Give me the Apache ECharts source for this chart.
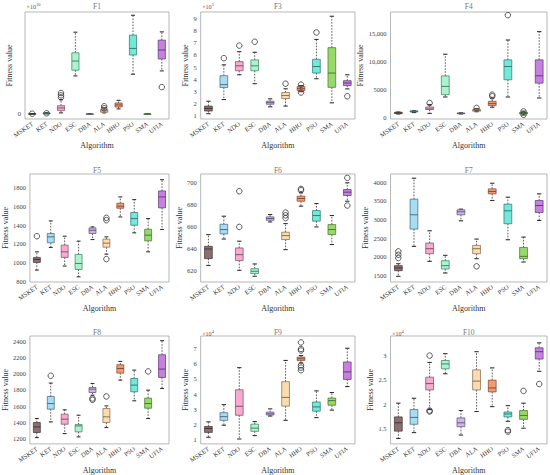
<!DOCTYPE html>
<html>
<head>
<meta charset="utf-8">
<script src="https://cdn.jsdelivr.net/npm/echarts@6/dist/echarts.min.js"></script>
<style>
  html, body { margin: 0; padding: 0; background: #fff; }
  #chart { width: 550px; height: 475px; }
</style>
</head>
<body>
<div id="chart"></div>
<script>
const algorithms = ['MSKET', 'KET', 'NDO', 'ESC', 'DBA', 'ALA', 'HHO', 'PSO', 'SMA', 'UFIA'];
const boxColors = ['#8c6f70', '#a8dcf4', '#f6abcf', '#a9f3cf', '#c9b7ea', '#fbdcb2', '#f29b72', '#71eadc', '#97da69', '#c680e0'];
const edgeColors = ['#3f3132', '#3f6478', '#7a4a60', '#3e7a5d', '#5c4f78', '#7f6544', '#7a432c', '#2c7068', '#456e2c', '#5e3270'];

// each row: [min, q1, median, q3, max]
// F1 in units of 1e10
const f1Stats = [
  [0, 0, 0.01, 0.02, 0.03],
  [0, 0.02, 0.05, 0.08, 0.12],
  [0.1, 0.32, 0.58, 0.81, 1.4],
  [3.73, 4.29, 5.19, 6.0, 8.02],
  [0, 0, 0, 0, 0],
  [0.1, 0.16, 0.3, 0.42, 0.6],
  [0.49, 0.68, 0.88, 1.07, 1.33],
  [3.9, 5.78, 6.43, 7.73, 9.68],
  [0, 0, 0, 0, 0],
  [4.22, 5.39, 6.27, 7.24, 8.05]
];
const f1Outliers = [[0, 0.02], [1, 0.06], [2, 1.62], [2, 1.82], [2, 2.05], [5, 0.55], [5, 0.75], [9, 2.63]];

// F3 in units of 1e5
const f3Stats = [
  [1.14, 1.36, 1.57, 1.77, 2.17],
  [2.31, 3.3, 3.54, 4.28, 5.18],
  [4.36, 4.69, 5.1, 5.45, 6.27],
  [3.62, 4.69, 5.1, 5.59, 6.22],
  [1.71, 1.92, 2.05, 2.17, 2.37],
  [1.77, 2.39, 2.64, 2.89, 3.2],
  [2.96, 3.05, 3.21, 3.38, 3.46],
  [4.03, 4.5, 5.04, 5.64, 7.28],
  [2.04, 3.32, 4.5, 6.6, 9.2],
  [3.19, 3.46, 3.68, 3.87, 4.36]
];
const f3Outliers = [[1, 5.73], [2, 6.77], [3, 7.09], [5, 3.62], [6, 2.89], [6, 3.54], [7, 7.86], [9, 2.58]];

const f4Stats = [
  [700, 770, 880, 1000, 1050],
  [950, 1050, 1150, 1250, 1300],
  [800, 1480, 1600, 1950, 2370],
  [3730, 4140, 5620, 7500, 11360],
  [700, 760, 800, 860, 900],
  [1100, 1200, 1350, 1500, 1650],
  [1900, 2190, 2540, 2960, 3550],
  [3730, 6800, 9170, 10360, 13900],
  [500, 700, 850, 1000, 1200],
  [3550, 6200, 7510, 10360, 15400]
];
const f4Outliers = [[2, 2660], [5, 1780], [6, 3850], [6, 4140], [7, 18340], [8, 1150], [8, 550]];

const f5Stats = [
  [918, 1000, 1032, 1054, 1114],
  [1161, 1211, 1275, 1311, 1446],
  [961, 1054, 1114, 1186, 1282],
  [846, 925, 989, 1086, 1229],
  [1246, 1311, 1346, 1371, 1382],
  [1089, 1164, 1207, 1250, 1275],
  [1489, 1582, 1604, 1636, 1704],
  [1318, 1400, 1471, 1536, 1675],
  [1114, 1232, 1293, 1357, 1471],
  [1354, 1586, 1704, 1768, 1889]
];
const f5Outliers = [[0, 1282], [5, 1479], [5, 1454], [5, 1036]];

const f6Stats = [
  [625, 631.2, 640, 642.4, 653],
  [649, 653.6, 657.6, 662.4, 669.7],
  [620.6, 629.4, 634.8, 640.9, 647],
  [615.2, 617.6, 619.7, 622.1, 626.4],
  [664.5, 666, 667.6, 669.1, 671.2],
  [639.4, 648.5, 652.1, 655.2, 663],
  [678.8, 683.3, 685.8, 687.9, 690.9],
  [660, 665.2, 670.3, 674.8, 681.2],
  [644, 653, 657.6, 662.1, 670.3],
  [683.3, 688.5, 691.5, 693.9, 700]
];
const f6Outliers = [[2, 692.4], [2, 660], [5, 673], [5, 670.5], [5, 668], [6, 694.5], [6, 693.3], [9, 704.5], [9, 679.4]];

const f7Stats = [
  [1482, 1633, 1705, 1767, 1820],
  [2283, 2746, 3128, 3546, 4107],
  [1882, 2087, 2221, 2372, 2701],
  [1571, 1678, 1767, 1900, 2043],
  [2968, 3128, 3208, 3262, 3280],
  [1954, 2087, 2221, 2310, 2479],
  [3511, 3689, 3751, 3822, 3973],
  [2461, 2888, 3235, 3413, 3600],
  [1865, 1954, 2016, 2256, 2532],
  [2977, 3190, 3377, 3511, 3689]
];
const f7Outliers = [[0, 2149], [0, 2060], [0, 1972], [5, 1749]];

const f8Stats = [
  [1208, 1271, 1341, 1395, 1445],
  [1403, 1561, 1631, 1719, 1885],
  [1258, 1374, 1437, 1499, 1553],
  [1217, 1279, 1353, 1370, 1486],
  [1735, 1768, 1810, 1831, 1880],
  [1333, 1395, 1466, 1569, 1602],
  [1922, 2009, 2067, 2113, 2154],
  [1665, 1777, 1860, 1942, 2046],
  [1445, 1573, 1631, 1698, 1797],
  [1818, 1955, 2059, 2237, 2412]
];
const f8Outliers = [[1, 1976], [4, 1694], [4, 1677], [5, 1719], [8, 2030]];

// F9 in units of 1e4
const f9Stats = [
  [1.17, 1.49, 1.75, 1.88, 2.18],
  [1.96, 2.28, 2.52, 2.78, 3.31],
  [1.06, 2.61, 3.2, 4.28, 5.73],
  [1.28, 1.56, 1.77, 2.03, 2.2],
  [2.56, 2.63, 2.71, 2.82, 3.03],
  [2.28, 3.21, 3.78, 4.81, 6.2],
  [6.03, 6.2, 6.31, 6.42, 6.52],
  [2.46, 2.88, 3.16, 3.48, 4.21],
  [2.95, 3.27, 3.57, 3.74, 4.1],
  [4.49, 4.96, 5.45, 6.1, 7.0]
];
const f9Outliers = [[6, 7.38], [6, 6.95], [6, 6.85], [6, 5.88], [6, 5.73], [6, 5.56]];

// F10 in units of 1e4
const f10Stats = [
  [1.3, 1.45, 1.62, 1.74, 2.02],
  [1.42, 1.59, 1.73, 1.89, 2.12],
  [1.89, 2.29, 2.42, 2.55, 2.85],
  [2.62, 2.72, 2.82, 2.89, 3.03],
  [1.37, 1.54, 1.62, 1.72, 1.87],
  [1.85, 2.29, 2.47, 2.7, 3.07],
  [1.95, 2.25, 2.33, 2.49, 2.74],
  [1.65, 1.74, 1.8, 1.84, 1.97],
  [1.51, 1.69, 1.77, 1.87, 2.02],
  [2.67, 2.92, 3.07, 3.15, 3.25]
];
const f10Outliers = [[2, 2.99], [2, 1.87], [2, 1.85], [7, 1.47], [7, 1.44], [8, 2.27], [9, 2.41]];

const FONT = 'Liberation Serif';
const cols = [{ left: 25, width: 144 }, { left: 200.7, width: 154.3 }, { left: 390.5, width: 156.5 }];
const rows = [{ top: 12, height: 107 }, { top: 174, height: 108 }, { top: 336, height: 109 }];

const panels = [
  { title: 'F1', stats: f1Stats, out: f1Outliers, r: 0, c: 0, min: -0.5, max: 10, interval: 0.5, step: 100, gap: 6, exp: '10' },
  { title: 'F3', stats: f3Stats, out: f3Outliers, r: 0, c: 1, min: 0.7, max: 9.55, interval: 0.05, step: 1, gap: 5, exp: '5' },
  { title: 'F4', stats: f4Stats, out: f4Outliers, r: 0, c: 2, min: -200, max: 18900, interval: 100, step: 5000, gap: 19 },
  { title: 'F5', stats: f5Stats, out: f5Outliers, r: 1, c: 0, min: 790, max: 1950, interval: 10, step: 200, gap: 15 },
  { title: 'F6', stats: f6Stats, out: f6Outliers, r: 1, c: 1, min: 610, max: 708, interval: 1, step: 20, gap: 14 },
  { title: 'F7', stats: f7Stats, out: f7Outliers, r: 1, c: 2, min: 1330, max: 4220, interval: 10, step: 500, gap: 16 },
  { title: 'F8', stats: f8Stats, out: f8Outliers, r: 2, c: 0, min: 1130, max: 2470, interval: 10, step: 200, gap: 15 },
  { title: 'F9', stats: f9Stats, out: f9Outliers, r: 2, c: 1, min: 0.74, max: 7.8, interval: 0.01, step: 1, gap: 8, exp: '4' },
  { title: 'F10', stats: f10Stats, out: f10Outliers, r: 2, c: 2, min: 1.19, max: 3.39, interval: 0.01, step: 0.5, gap: 13, exp: '4' }
];

const isStep = (v, step) => {
  const k = v / step;
  return Math.abs(k - Math.round(k)) < 1e-6;
};
const fmtTick = v => {
  const r = Math.round(v * 100) / 100;
  return r >= 10000 ? r.toLocaleString('en-US') : String(r);
};

const renderBox = (params, api) => {
  const i = api.value(0);
  const lo = api.coord([i, api.value(1)]);
  const q1 = api.coord([i, api.value(2)]);
  const md = api.coord([i, api.value(3)]);
  const q3 = api.coord([i, api.value(4)]);
  const hi = api.coord([i, api.value(5)]);
  const band = api.size([1, 0])[0];
  const w = band * 0.5;
  const cw = band * 0.14;
  const cx = q1[0];
  const dash = { stroke: '#333', lineWidth: 0.8, lineDash: [1.6, 1.4] };
  const cap = { stroke: '#333', lineWidth: 1.1 };
  const ln = (x1, y1, x2, y2, style) => ({ type: 'line', shape: { x1, y1, x2, y2 }, style });
  return {
    type: 'group',
    children: [
      ln(cx, q3[1], cx, hi[1], dash),
      ln(cx, q1[1], cx, lo[1], dash),
      ln(cx - cw, hi[1], cx + cw, hi[1], cap),
      ln(cx - cw, lo[1], cx + cw, lo[1], cap),
      {
        type: 'rect',
        shape: { x: cx - w / 2, y: q3[1], width: w, height: Math.max(q1[1] - q3[1], 0.6) },
        style: { fill: boxColors[i], stroke: edgeColors[i], lineWidth: 0.7 }
      },
      ln(cx - w / 2, md[1], cx + w / 2, md[1], { stroke: edgeColors[i], lineWidth: 0.9 })
    ]
  };
};

const textEl = (x, y, text, size, color, align) => ({
  type: 'text', x, y, silent: true,
  style: {
    text, fontFamily: FONT, fontSize: size, fontWeight: 'normal', fill: color,
    stroke: 'none', lineWidth: 0,
    textAlign: align, textVerticalAlign: 'middle', align, verticalAlign: 'middle'
  }
});

const grids = [], xAxes = [], yAxes = [], series = [], graphics = [];

panels.forEach((p, k) => {
  const col = cols[p.c], row = rows[p.r];
  grids.push({
    left: col.left, top: row.top, width: col.width, height: row.height,
    show: true, borderColor: '#9a9a9a', borderWidth: 0.7, backgroundColor: 'transparent'
  });
  xAxes.push({
    type: 'category', gridIndex: k, data: algorithms,
    name: 'Algorithm', nameLocation: 'middle', nameGap: p.r === 0 ? 20 : 19,
    nameTextStyle: { fontFamily: FONT, fontSize: 8, color: '#333' },
    axisLine: { show: false }, axisTick: { show: false },
    axisLabel: { interval: 0, rotate: 35, fontFamily: FONT, fontSize: 6.5, color: '#333', margin: 4 }
  });
  yAxes.push({
    type: 'value', gridIndex: k, min: p.min, max: p.max, interval: p.interval,
    name: 'Fitness value', nameLocation: 'middle', nameGap: p.gap, nameRotate: 90,
    nameTextStyle: { fontFamily: FONT, fontSize: 8, color: '#333' },
    axisLine: { show: false }, axisTick: { show: false }, splitLine: { show: false },
    axisLabel: {
      fontFamily: FONT, fontSize: 6.5, color: '#444', margin: 4, showMinLabel: true, showMaxLabel: true,
      formatter: v => (isStep(v, p.step) ? fmtTick(v) : '')
    }
  });
  series.push({
    type: 'custom', xAxisIndex: k, yAxisIndex: k,
    data: p.stats.map((s, i) => [i, ...s]),
    encode: { x: 0, y: [1, 2, 3, 4, 5] },
    renderItem: renderBox, silent: true
  });
  series.push({
    type: 'scatter', xAxisIndex: k, yAxisIndex: k,
    data: p.out, symbol: 'circle', symbolSize: 5.5,
    itemStyle: { color: 'rgba(255,255,255,0)', borderColor: '#333', borderWidth: 1 },
    silent: true, z: 5
  });
  const cxTitle = col.left + col.width / 2;
  const yTitle = p.r === 0 ? 6 : row.top - 3.5;
  graphics.push(textEl(cxTitle, yTitle, p.title, 7.5, '#777', 'center'));
  if (p.exp) {
    const ex = col.left + 1.5;
    const ey = p.r === 0 ? 7 : row.top - 2.5;
    graphics.push(textEl(ex, ey, '×10', 6, '#555', 'left'));
    graphics.push(textEl(ex + 9.5, ey - 2.5, p.exp, 4.5, '#555', 'left'));
  }
});

const chart = echarts.init(document.getElementById('chart'), null, { renderer: 'svg' });
chart.setOption({
  animation: false,
  backgroundColor: '#fff',
  textStyle: { fontFamily: FONT },
  grid: grids,
  xAxis: xAxes,
  yAxis: yAxes,
  series: series,
  graphic: graphics
});
window.addEventListener('resize', () => chart.resize());
</script>
</body>
</html>
